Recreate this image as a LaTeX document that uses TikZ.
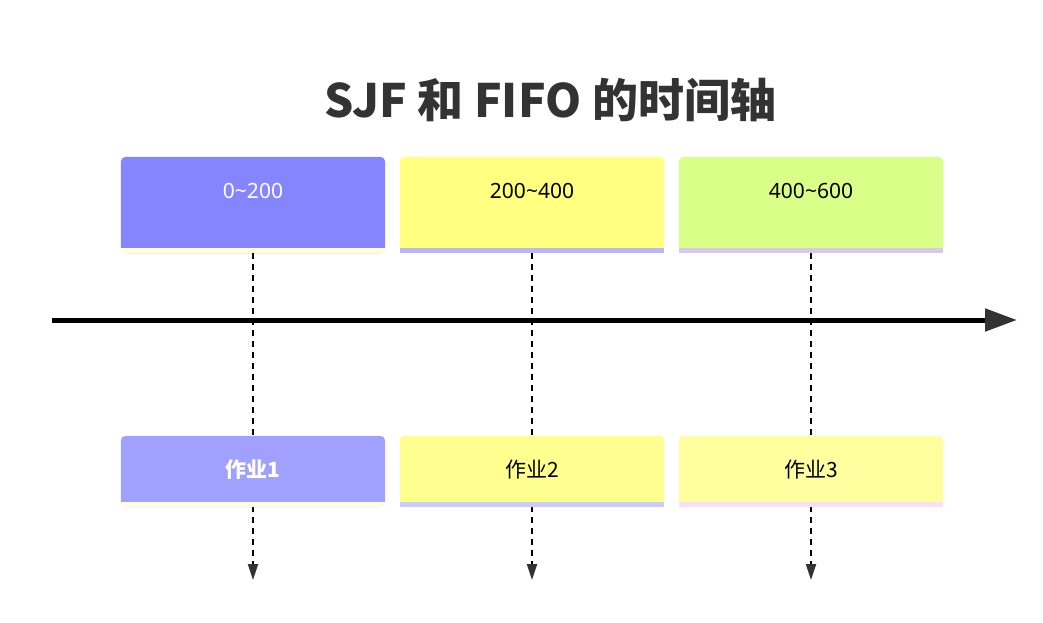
\documentclass[tikz,border=0pt]{standalone}
\usepackage{fontspec}
\setmainfont{Noto Sans}
\newfontfamily\cjk{Noto Sans CJK SC}
\usetikzlibrary{arrows.meta,backgrounds}

\definecolor{inkgray}{HTML}{333333}
\definecolor{slotA}{HTML}{8585FF}
\definecolor{slotB}{HTML}{FFFF80}
\definecolor{slotC}{HTML}{D9FF88}
\definecolor{jobA}{HTML}{A0A0FF}
\definecolor{jobB}{HTML}{FFFF90}
\definecolor{jobC}{HTML}{FFFFA0}
\definecolor{edgeA}{HTML}{FFFFD0}
\definecolor{edgeB}{HTML}{B8B8F8}
\definecolor{edgeC}{HTML}{D8C8F0}
\definecolor{edgeD}{HTML}{FFFFE0}
\definecolor{edgeE}{HTML}{C8CCFF}
\definecolor{edgeF}{HTML}{F8E0FA}

\tikzset{
    slotbox/.style={minimum width=264pt, minimum height=96pt, inner sep=0pt},
    slottext/.style={font=\fontsize{21}{24}\selectfont, yshift=14pt},
    jobbox/.style={minimum width=264pt, minimum height=71pt, inner sep=0pt},
    jobtext/.style={font=\fontsize{21}{24}\selectfont\cjk, yshift=1.5pt},
    guide/.style={dashed, dash pattern=on 6pt off 5pt, line width=2.2pt,
        -{Triangle[length=16pt,width=10pt,color=inkgray]}},
}

% fill a box with round top corners and a thin stripe under it
\newcommand{\boxfill}[3]{%
    \fill[#2, rounded corners=5pt] (#1.south west) rectangle (#1.north east);
    \fill[#2] (#1.south west) rectangle ([yshift=-10pt]#1.east);
    \fill[#3] (#1.south west) rectangle ([yshift=5pt]#1.south east);
}

\begin{document}
\begin{tikzpicture}[x=1pt, y=-1pt, line cap=butt]

\useasboundingbox (0,0) rectangle (1043,622);

\node[font=\fontsize{46}{52}\selectfont\bfseries\cjk, text=inkgray] (title) at (550,100) {SJF 和 FIFO 的时间轴};

% time slots
\node[slotbox, label={[slottext, text=white]center:0\textasciitilde200}] (s1) at (253,205) {};
\node[slotbox, label={[slottext]center:200\textasciitilde400}] (s2) at (532,205) {};
\node[slotbox, label={[slottext]center:400\textasciitilde600}] (s3) at (811,205) {};

% jobs
\node[jobbox, label={[jobtext, text=white, font=\fontsize{21}{24}\selectfont\cjk\bfseries]center:作业1}] (j1) at (253,471.5) {};
\node[jobbox, label={[jobtext]center:作业2}] (j2) at (532,471.5) {};
\node[jobbox, label={[jobtext]center:作业3}] (j3) at (811,471.5) {};

\coordinate (a0) at (52,320);
\coordinate (a1) at (1017,320);
\coordinate (e1) at (253,580);
\coordinate (e2) at (532,580);
\coordinate (e3) at (811,580);

\begin{scope}[on background layer]
    \fill[white] (0,0) rectangle (1043,622);
    \boxfill{s1}{slotA}{edgeA}
    \boxfill{s2}{slotB}{edgeB}
    \boxfill{s3}{slotC}{edgeC}
    \foreach \i in {1,2,3} {
        \draw[guide] (s\i.south) -- (e\i);
    }
    \boxfill{j1}{jobA}{edgeD}
    \boxfill{j2}{jobB}{edgeE}
    \boxfill{j3}{jobC}{edgeF}
\end{scope}

% time axis
\draw[line width=5pt, -{Triangle[length=32pt,width=22pt,color=inkgray]}] (a0) -- (a1);

\end{tikzpicture}
\end{document}
